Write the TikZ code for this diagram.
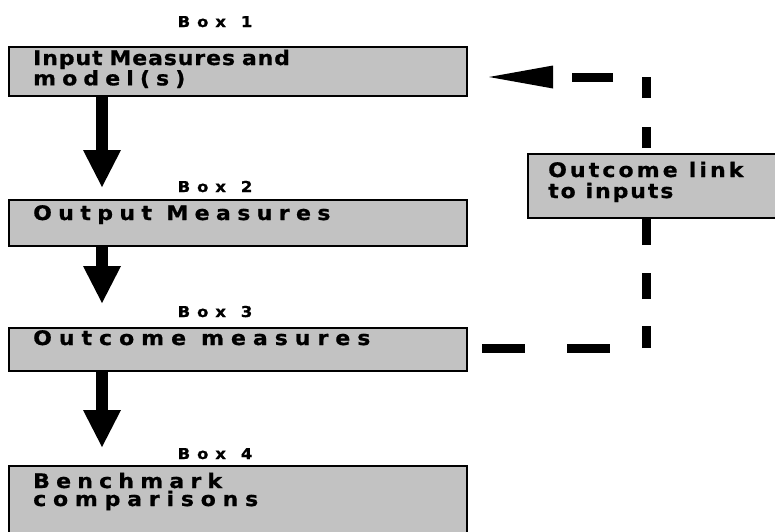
\documentclass[tikz,border=0pt]{standalone}
\usepackage{fontspec}
\newfontfamily\dvb{DejaVu Sans}[FakeStretch=1.1, FakeBold=0.8]
\usetikzlibrary{arrows.meta}
\makeatletter
\newdimen\trk@gap \newdimen\trk@ws
\def\trk@end{\trk@end@}
\def\trk@loop#1{%
  \ifx#1\trk@end\unskip
  \else
    \ifx#1|\hskip\trk@ws\relax
    \else#1\hskip\trk@gap\relax
    \fi
    \expandafter\trk@loop
  \fi}
\newcommand\trk[3]{\trk@gap=#1\relax\trk@ws=#2\relax\trk@loop#3\trk@end}
\makeatother
\newcommand\twol[2]{\vtop{\hbox{#1}\hbox{#2}}}
\tikzset{
  box/.style={draw=black, line width=2pt, fill=black!24, inner sep=0pt,
              anchor=north west, minimum width=458pt},
  boxtext/.style={font=\dvb\bfseries\fontsize{20}{18}\selectfont,
              inner sep=0pt, anchor=base west, text=black},
  linktext/.style={boxtext, font=\dvb\bfseries\fontsize{20}{21}\selectfont},
  lbl/.style={font=\dvb\bfseries\fontsize{15}{15}\selectfont,
              inner sep=0pt, anchor=base},
  bigarrow/.style={line width=12pt, -{Triangle[length=37pt,width=38pt,line width=0pt]}},
  fb/.style={line width=9pt},
}
\begin{document}
\begin{tikzpicture}[x=1pt,y=-1pt]
\useasboundingbox (0,0) rectangle (775,531);
\clip (0,0) rectangle (775,531);

% boxes
\node[box, minimum height=49pt] (b1) at (8,46) {};
\node[box, minimum height=46pt] (b2) at (8,199) {};
\node[box, minimum height=43pt] (b3) at (8,327) {};
\node[box, minimum height=75pt] (b4) at (8,465) {};
\node[box, minimum width=260pt, minimum height=64pt] (lk) at (527,153) {};

% box labels
\node[lbl] (l1) at (215,27) {\trk{6.9pt}{8pt}{Box|1}};
\node[lbl] (l2) at (215,192) {\trk{6.9pt}{8pt}{Box|2}};
\node[lbl] (l3) at (215,317) {\trk{6.9pt}{8pt}{Box|3}};
\node[lbl] (l4) at (215,459) {\trk{6.9pt}{8pt}{Box|4}};

% box texts
\node[boxtext] (t1) at (33,65) {\twol{\trk{0.9pt}{6pt}{Input|Measures|and}}{\trk{6.1pt}{6pt}{model(s)}}};
\node[boxtext] (t2) at (33,220) {\trk{6.4pt}{8pt}{Output|Measures}};
\node[boxtext] (t3) at (33,345) {\trk{7pt}{8pt}{Outcome|measures}};
\node[boxtext] (t4) at (33,488) {\twol{\trk{6.2pt}{8pt}{Benchmark}}{\trk{6.8pt}{8pt}{comparisons}}};
\node[linktext] (tl) at (548,177) {\twol{\trk{3.1pt}{8pt}{Outcome|link}}{\trk{1.9pt}{8pt}{to|inputs}}};

% main flow arrows
\coordinate (ax) at (102,0);
\draw[bigarrow, shorten >=12pt] (b1.south -| ax) -- (b2.north -| ax);
\draw[bigarrow, shorten >=24pt] (b2.south -| ax) -- (b3.north -| ax);
\draw[bigarrow, shorten >=18pt] (b3.south -| ax) -- (b4.north -| ax);

% feedback loop
\coordinate (c1) at (646,348);
\coordinate (c2) at (646,77);
\draw[fb, dash pattern=on 43pt off 42pt, dash phase=71pt] (b3.east |- c1) -- (c1);
\draw[fb, dash pattern=on 22pt off 27pt on 26pt off 28pt on 26pt off 30pt] (c1) -- (lk.south -| c1);
\draw[fb, dash pattern=on 21pt off 29pt on 30pt off 5pt, dash phase=80pt] (lk.north -| c1) -- (c2);
\draw[fb, dash pattern=on 41pt off 54pt, dash phase=62pt, shorten >=21pt,
      -{Triangle[length=64pt,width=23pt,line width=0pt]}] (c2) -- (b1.east |- c2);
\end{tikzpicture}
\end{document}
